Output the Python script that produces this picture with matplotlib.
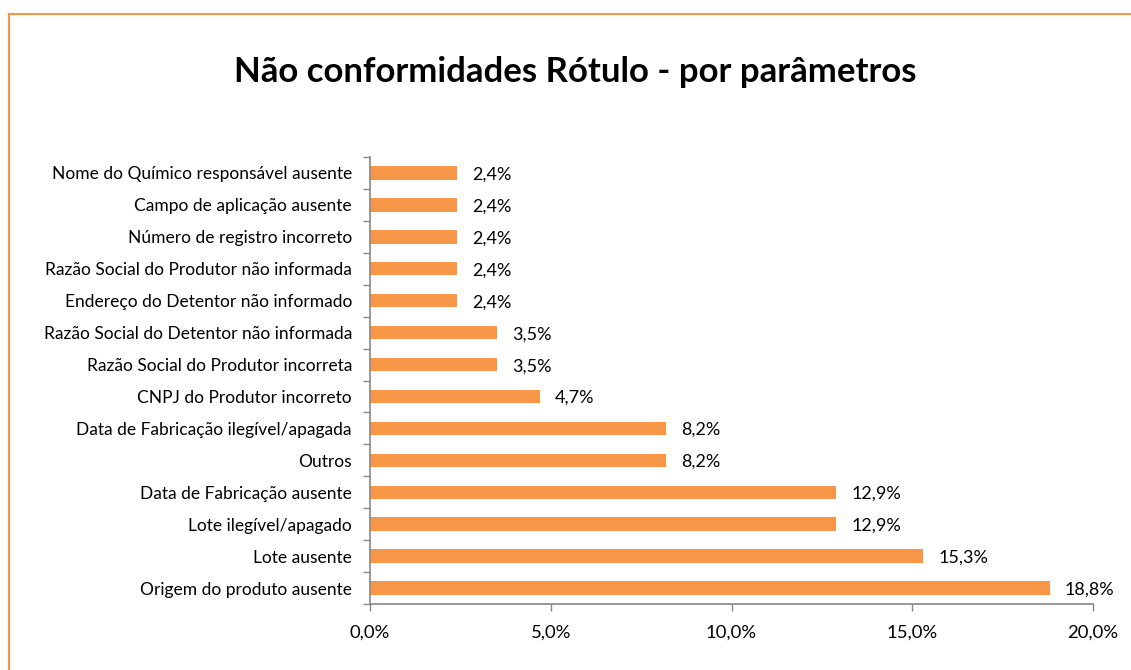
import matplotlib.pyplot as plt
from matplotlib.patches import Rectangle
import numpy as np

plt.rcParams['font.family'] = ['Lato', 'DejaVu Sans']

# Dados (de baixo para cima)
categorias = [
    "Origem do produto ausente",
    "Lote ausente",
    "Lote ilegível/apagado",
    "Data de Fabricação ausente",
    "Outros",
    "Data de Fabricação ilegível/apagada",
    "CNPJ do Produtor incorreto",
    "Razão Social do Produtor incorreta",
    "Razão Social do Detentor não informada",
    "Endereço do Detentor não informado",
    "Razão Social do Produtor não informada",
    "Número de registro incorreto",
    "Campo de aplicação ausente",
    "Nome do Químico responsável ausente",
]
valores = [18.8, 15.3, 12.9, 12.9, 8.2, 8.2, 4.7, 3.5, 3.5, 2.4, 2.4, 2.4, 2.4, 2.4]
xticks = [0, 5, 10, 15, 20]

laranja = '#F79646'
cinza = '#868686'

fig = plt.figure(figsize=(11.31, 6.70), dpi=100)
# moldura laranja
fig.patches.append(Rectangle((9 / 1131, -0.5), 1.2, 0.5 + (670 - 14) / 670, transform=fig.transFigure,
                             fill=False, edgecolor=laranja, linewidth=1.5))

ax = fig.add_axes([370 / 1131, (670 - 604) / 670, (1093 - 370) / 1131, (604 - 157) / 670])
y = np.arange(len(categorias))
ax.barh(y, valores, height=0.42, color=laranja)
ax.set_ylim(-0.5, len(categorias) - 0.5)
ax.set_xlim(0, 20)

for yi, v in zip(y, valores):
    ax.text(v + 0.42, yi - 0.05, f"{v:.1f}%".replace('.', ','), va='center', ha='left',
            fontsize=13, color='#000000')

ax.set_yticks(y)
ax.set_yticklabels(categorias, fontsize=12.5)
ax.set_yticks(np.arange(-0.5, len(categorias)), minor=True)
ax.tick_params(axis='y', which='major', length=0, pad=13)
ax.tick_params(axis='y', which='minor', length=5, color=cinza, width=1)
ax.set_xticks(xticks)
ax.set_xticklabels([f"{t:.1f}%".replace('.', ',') for t in xticks], fontsize=13.3)
ax.tick_params(axis='x', length=5, color=cinza, width=1, pad=10)

for s in ['top', 'right']:
    ax.spines[s].set_visible(False)
for s in ['left', 'bottom']:
    ax.spines[s].set_color(cinza)
    ax.spines[s].set_linewidth(1.2)

fig.text(575 / 1131, 1 - 72 / 670, "Não conformidades Rótulo - por parâmetros",
         ha='center', va='center', fontsize=25, fontweight='bold')

fig.savefig('out.png', dpi=100)
